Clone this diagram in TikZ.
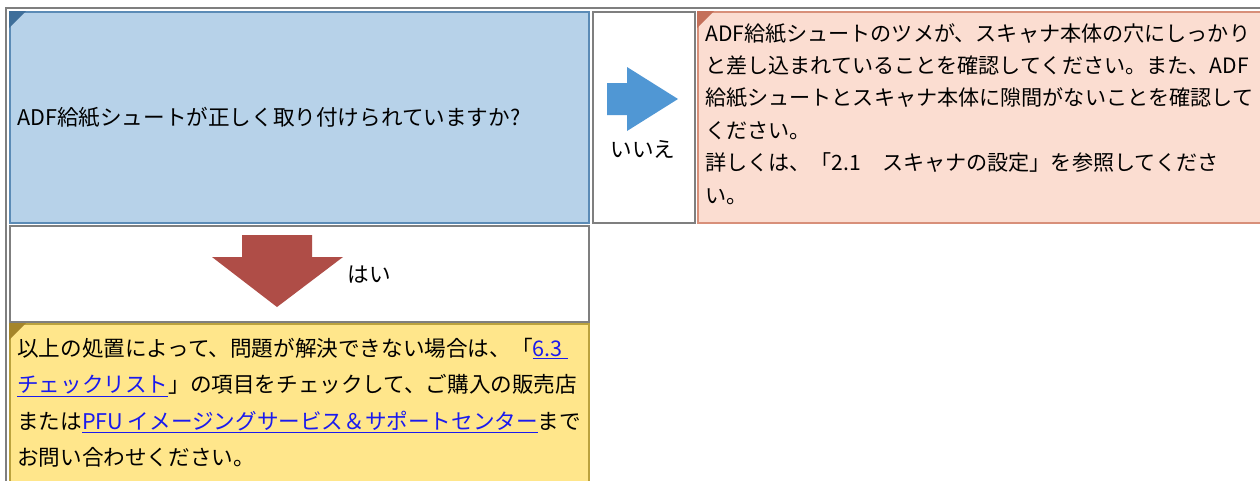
\documentclass[tikz,border=0pt]{standalone}
\usepackage{fontspec}
\setmainfont{Noto Sans CJK JP}
\usetikzlibrary{positioning}
\definecolor{qfill}{HTML}{B7D2E9}
\definecolor{qline}{HTML}{5B8BB6}
\definecolor{qcorner}{HTML}{3F6F9A}
\definecolor{afill}{HTML}{FBDDD1}
\definecolor{aline}{HTML}{D8907A}
\definecolor{acorner}{HTML}{C4705A}
\definecolor{yfill}{HTML}{FFE68B}
\definecolor{yline}{HTML}{BBA23E}
\definecolor{ycorner}{HTML}{A5852A}
\definecolor{gridgray}{HTML}{7F7F7F}
\definecolor{noarrow}{HTML}{5097D4}
\definecolor{yesarrow}{HTML}{AF4D47}
\definecolor{linkblue}{HTML}{1A1AEE}

\newcommand{\linktext}[1]{\textcolor{linkblue}{\underline{#1}}}

\begin{document}
\begin{tikzpicture}[
    x=1pt, y=-1pt,
    cell/.style={
      rectangle, anchor=north west, inner sep=0pt, line width=1.5pt
    },
    qcell/.style={cell, draw=qline, fill=qfill},
    acell/.style={cell, draw=aline, fill=afill},
    ycell/.style={cell, draw=yline, fill=yfill},
    blankcell/.style={cell, draw=gridgray, fill=white},
    txt/.style={
      inner sep=0pt, align=left, text=black,
      font=\fontsize{21.6}{32.4}\selectfont
    }
  ]
  \useasboundingbox (0,0) rectangle (1260,480);

  % Cadre
  \draw[gridgray, line width=2pt] (6,482) -- (6,8) -- (1262,8);

  % Cellules
  \node[qcell, minimum width=579pt, minimum height=211pt] (q)   at (9,11)   {};
  \node[blankcell, minimum width=102pt, minimum height=211pt] (no) at (592,11) {};
  \node[acell, minimum width=570pt, minimum height=211pt] (a)   at (697,11) {};
  \node[blankcell, minimum width=579pt, minimum height=96pt] (yes) at (9,225) {};
  \node[ycell, minimum width=579pt, minimum height=162pt] (y)   at (9,323)  {};

  % Coins
  \fill[qcorner] (q.north west) -- +(17,0) -- +(0,17) -- cycle;
  \fill[acorner] (a.north west) -- +(17,0) -- +(0,17) -- cycle;
  \fill[ycorner] (y.north west) -- +(17,0) -- +(0,17) -- cycle;

  % Fleches
  \fill[noarrow] (607,83) -- (627,83) -- (627,67) -- (678,99)
    -- (627,131) -- (627,115) -- (607,115) -- cycle;
  \fill[yesarrow] (242,235) -- (312,235) -- (312,257) -- (343,257)
    -- (277,307) -- (212,257) -- (242,257) -- cycle;

  % Textes
  \node[txt, anchor=west] (qtext) at ([xshift=8pt]q.west)
    {ADF給紙シュートが正しく取り付けられていますか?};
  \node[txt] (notext) at (643,149) {いいえ};
  \node[txt] (yestext) at (369,275) {はい};
  \node[txt, anchor=west, font=\fontsize{21.1}{32.4}\selectfont] (atext)
    at ([xshift=8pt, yshift=3.5pt]a.west)
    {ADF給紙シュートのツメが、スキャナ本体の穴にしっかり\\
     と差し込まれていることを確認してください。また、ADF\\
     給紙シュートとスキャナ本体に隙間がないことを確認して\\
     ください。\\
     詳しくは、「2.1　スキャナの設定」を参照してくださ\\
     い。};
  \node[txt, anchor=north west, font=\fontsize{21.6}{36.5}\selectfont] (ytext)
    at ([xshift=8pt, yshift=-15pt]y.north west)
    {以上の処置によって、問題が解決できない場合は、「\linktext{6.3 }\\
     \linktext{チェックリスト}」の項目をチェックして、ご購入の販売店\\
     または\linktext{PFU イメージングサービス＆サポートセンター}まで\\
     お問い合わせください。};

\end{tikzpicture}
\end{document}
